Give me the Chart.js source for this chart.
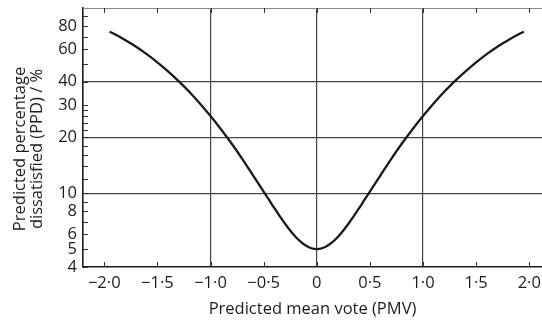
<!DOCTYPE html>
<html>
<head>
<meta charset="utf-8">
<script src="https://cdn.jsdelivr.net/npm/chart.js@4/dist/chart.umd.min.js"></script>
<style>
  html, body { margin: 0; padding: 0; background: #fff; }
  #wrap { width: 542px; height: 320px; }
</style>
</head>
<body>
<div id="wrap"><canvas id="ppdChart" width="542" height="320"></canvas></div>
<script>
// PMV / PPD curve points
const pmv = [-1.95, -1.9, -1.8, -1.7, -1.6, -1.5, -1.4, -1.3, -1.2, -1.1, -1.0,
             -0.9, -0.8, -0.7, -0.6, -0.5, -0.45, -0.4, -0.35, -0.3, -0.25, -0.2, -0.15, -0.1, -0.05, 0,
             0.05, 0.1, 0.15, 0.2, 0.25, 0.3, 0.35, 0.4, 0.45, 0.5, 0.6, 0.7, 0.8, 0.9,
             1.0, 1.1, 1.2, 1.3, 1.4, 1.5, 1.6, 1.7, 1.8, 1.9, 1.95];
const ppd = [74.5, 72.1, 67.0, 61.8, 56.4, 50.9, 45.5, 40.3, 35.3, 30.5, 26.1,
             22.1, 18.5, 15.3, 12.5, 10.2, 9.23, 8.33, 7.55, 6.87, 6.30, 5.83, 5.47, 5.21, 5.05, 5.0,
             5.05, 5.21, 5.47, 5.83, 6.30, 6.87, 7.55, 8.33, 9.23, 10.2, 12.5, 15.3, 18.5, 22.1,
             26.1, 30.5, 35.3, 40.3, 45.5, 50.9, 56.4, 61.8, 67.0, 72.1, 74.5];

const xTicks = [-2, -1.5, -1, -0.5, 0, 0.5, 1, 1.5, 2];
const yTicks = [4, 5, 6, 8, 10, 20, 30, 40, 60, 80];
const yMinorTicks = [4, 5, 6, 7, 8, 9, 10, 12, 14, 16, 18, 20, 22, 24, 26, 28, 30, 40, 50, 60, 70, 80, 90];
const xGrid = [-1, 0, 1];
const yGrid = [10, 20, 40];

const FONT = "'Open Sans', 'Noto Sans', sans-serif";
const FONT_SIZE = 16.5;
const INK = '#1c1c1c';
const GRID = '#444';

function formatPmv(v) {
  if (v === 0) return '0';
  return (v < 0 ? '\u2212' : '') + Math.abs(v).toFixed(1).replace('.', '\u00b7');
}

// inward tick marks, top frame line and the two-line y title
const frameExtras = {
  id: 'frameExtras',
  afterDraw(chart) {
    const { ctx, chartArea: a, scales: { x, y } } = chart;
    ctx.save();

    ctx.strokeStyle = '#8a8a8a';
    ctx.lineWidth = 1;
    ctx.beginPath();
    ctx.moveTo(a.left, a.top + 0.5);
    ctx.lineTo(a.right, a.top + 0.5);
    ctx.stroke();

    ctx.strokeStyle = '#333';
    ctx.lineWidth = 1;
    ctx.beginPath();
    yMinorTicks.forEach(v => {
      const py = Math.round(y.getPixelForValue(v)) + 0.5;
      ctx.moveTo(a.left, py);
      ctx.lineTo(a.left + 5, py);
    });
    xTicks.forEach(v => {
      const px = Math.round(x.getPixelForValue(v)) + 0.5;
      ctx.moveTo(px, a.bottom);
      ctx.lineTo(px, a.bottom - 5);
      ctx.moveTo(px, a.top);
      ctx.lineTo(px, a.top + 5);
    });
    ctx.stroke();

    ctx.fillStyle = INK;
    ctx.font = FONT_SIZE + 'px ' + FONT;
    ctx.textAlign = 'center';
    ctx.textBaseline = 'middle';
    ctx.translate(0, 149);
    ctx.rotate(-Math.PI / 2);
    ctx.fillText('Predicted percentage', 0, 20);
    ctx.fillText('dissatisfied (PPD) / %', 0, 37);
    ctx.restore();
  }
};

new Chart(document.getElementById('ppdChart'), {
  type: 'line',
  data: {
    datasets: [{
      data: pmv.map((v, i) => ({ x: v, y: ppd[i] })),
      borderColor: '#1a1a1a',
      borderWidth: 2.3,
      pointRadius: 0,
      cubicInterpolationMode: 'monotone',
      fill: false
    }]
  },
  options: {
    responsive: false,
    animation: false,
    layout: { padding: { top: 8, left: 0, right: 0, bottom: 0 } },
    plugins: {
      legend: { display: false },
      tooltip: { enabled: false }
    },
    scales: {
      x: {
        type: 'linear',
        min: -2.2,
        max: 2.12,
        afterBuildTicks: s => { s.ticks = xTicks.map(v => ({ value: v })); },
        afterFit: s => { s.height = 53; s.paddingLeft = 0; s.paddingRight = 0; },
        ticks: {
          color: INK,
          font: { family: FONT, size: FONT_SIZE },
          padding: 6,
          maxRotation: 0,
          autoSkip: false,
          callback: v => formatPmv(v)
        },
        grid: {
          drawTicks: false,
          lineWidth: 1.2,
          color: c => (c.tick && xGrid.includes(c.tick.value)) ? GRID : 'transparent'
        },
        border: { display: true, color: INK, width: 1.6 },
        title: {
          display: true,
          text: 'Predicted mean vote (PMV)',
          color: INK,
          font: { family: FONT, size: FONT_SIZE, lineHeight: 1.1 },
          padding: { top: 0, bottom: 2 }
        }
      },
      y: {
        type: 'logarithmic',
        min: 4,
        max: 100,
        afterBuildTicks: s => { s.ticks = yTicks.map(v => ({ value: v })); },
        afterFit: s => { s.width = 83; s.paddingTop = 0; s.paddingBottom = 0; },
        ticks: {
          color: INK,
          font: { family: FONT, size: FONT_SIZE },
          padding: 6,
          autoSkip: false,
          callback: v => String(v)
        },
        grid: {
          drawTicks: false,
          lineWidth: 1.2,
          color: c => (c.tick && yGrid.includes(c.tick.value)) ? GRID : 'transparent'
        },
        border: { display: true, color: INK, width: 1.6 }
      }
    }
  },
  plugins: [frameExtras]
});
</script>
</body>
</html>
